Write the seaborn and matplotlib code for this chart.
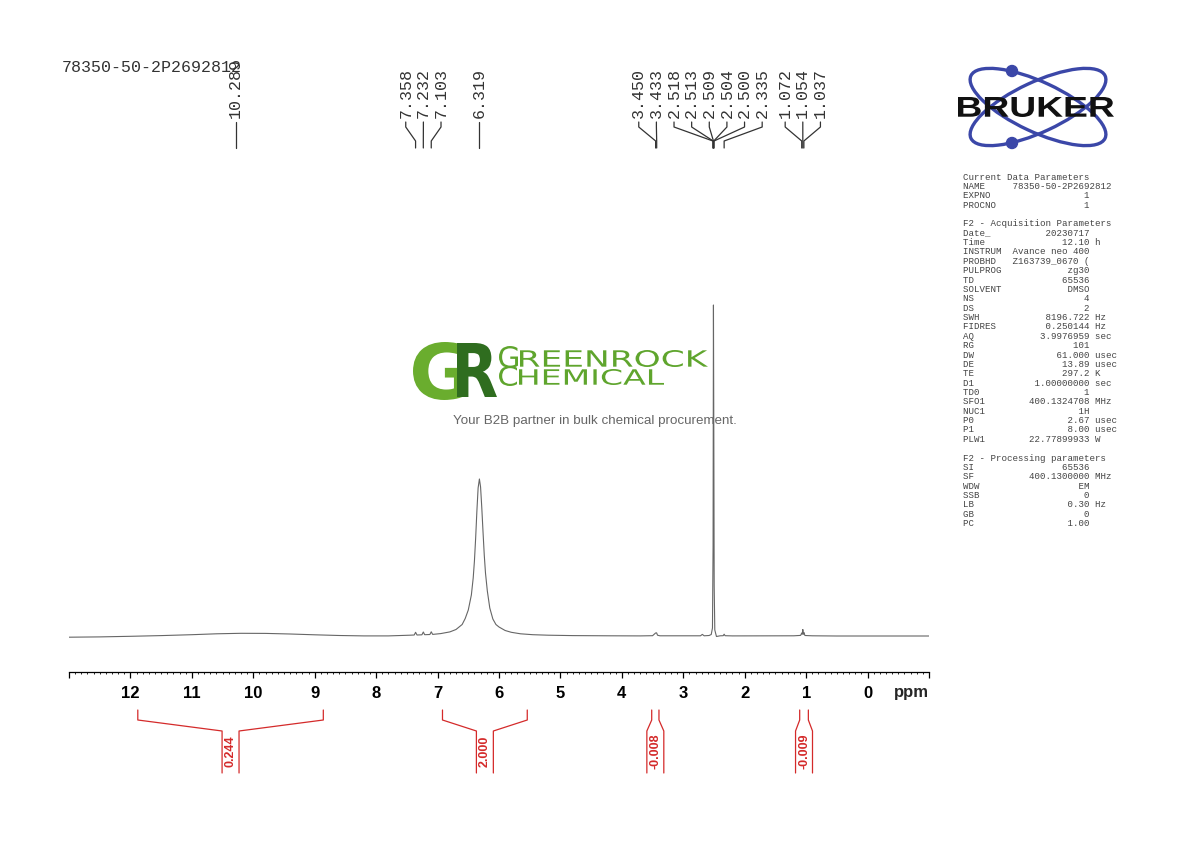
import numpy as np
import pandas as pd
import seaborn as sns
import matplotlib.pyplot as plt
from matplotlib.ticker import FixedLocator, MultipleLocator, FuncFormatter
from matplotlib.patches import Ellipse, Circle, PathPatch
from matplotlib.textpath import TextPath
from matplotlib.font_manager import FontProperties
from matplotlib.transforms import Affine2D

# -----------------------------
# data (ppm, intensity in arb. units)
# -----------------------------
hump_ppm = [13.0, 12.5, 12.0, 11.5, 11.0, 10.6, 10.2, 9.8, 9.4, 9.0, 8.6, 8.2, 7.8]
hump_int = [-1.2, -0.9, -0.3, 0.4, 1.3, 2.2, 2.7, 2.6, 2.0, 1.2, 0.5, 0.1, 0.1]

nh_ppm = [7.60, 7.45, 7.38, 7.358, 7.335, 7.255, 7.232, 7.21, 7.125, 7.103, 7.08,
          6.95, 6.80, 6.70, 6.60, 6.55, 6.50, 6.45, 6.42, 6.40, 6.38, 6.36, 6.34,
          6.319, 6.30, 6.28, 6.26, 6.24, 6.22, 6.19, 6.15, 6.10, 6.05, 6.00, 5.90,
          5.80, 5.65, 5.45, 5.20, 4.80, 4.20]
nh_int = [0.5, 0.8, 1.0, 3.7, 1.0, 1.2, 4.0, 1.3, 1.5, 4.2, 1.6,
          2.4, 4.1, 6.5, 11.5, 17.5, 26, 41, 58, 75, 98, 125, 148,
          157, 149, 128, 104, 81, 63, 45, 28, 17, 11.5, 9, 5.5,
          3.7, 2.2, 1.3, 0.8, 0.4, 0.2]

ali_ppm = [3.70, 3.50, 3.46, 3.45, 3.44, 3.433, 3.42, 3.38, 2.90, 2.72, 2.69, 2.66,
           2.58, 2.545, 2.525, 2.515, 2.509, 2.503, 2.497, 2.487, 2.46, 2.40, 2.35,
           2.335, 2.32, 2.20, 1.20, 1.09, 1.072, 1.063, 1.054, 1.045, 1.037, 1.02,
           0.90, 0.50, -0.50, -1.0]
ali_int = [0.1, 0.3, 2.5, 3.0, 3.2, 3.0, 0.8, 0.2, 0.2, 0.2, 1.6, 0.2,
           0.5, 1.5, 8, 90, 331, 200, 50, 6, -0.5, 0.2, 0.3,
           1.8, 0.3, 0.1, 0.2, 0.6, 3.0, 1.8, 6.5, 1.8, 3.5, 0.5,
           0.2, 0.0, 0.0, 0.0]

# picked peaks, grouped the way the labels are fanned out
peak_groups = [[10.289],
               [7.358, 7.232, 7.103],
               [6.319],
               [3.450, 3.433, 2.518, 2.513, 2.509, 2.504, 2.500, 2.335],
               [1.072, 1.054, 1.037]]

# integrals: (from ppm, to ppm, value)
int_from = [11.88, 6.92, 3.514, 1.105]
int_to = [8.86, 5.54, 3.396, 0.964]
int_vals = ["0.244", "2.000", "-0.008", "-0.009"]

title = "78350-50-2P2692812"

par_names = ["Current Data Parameters", "NAME", "EXPNO", "PROCNO", "",
             "F2 - Acquisition Parameters", "Date_", "Time", "INSTRUM", "PROBHD",
             "PULPROG", "TD", "SOLVENT", "NS", "DS", "SWH", "FIDRES", "AQ", "RG",
             "DW", "DE", "TE", "D1", "TD0", "SFO1", "NUC1", "P0", "P1", "PLW1", "",
             "F2 - Processing parameters", "SI", "SF", "WDW", "SSB", "LB", "GB", "PC"]
par_values = [None, "78350-50-2P2692812", "1", "1", None,
              None, "20230717", "12.10", "Avance neo 400", "Z163739_0670 (",
              "zg30", "65536", "DMSO", "4", "2", "8196.722", "0.250144", "3.9976959", "101",
              "61.000", "13.89", "297.2", "1.00000000", "1", "400.1324708", "1H", "2.67",
              "8.00", "22.77899933", None,
              None, "65536", "400.1300000", "EM", "0", "0.30", "0", "1.00"]
par_units = ["", "", "", "", "",
             "", "", "h", "", "",
             "", "", "", "", "", "Hz", "Hz", "sec", "",
             "usec", "usec", "K", "sec", "", "MHz", "", "usec", "usec", "W", "",
             "", "", "MHz", "", "", "Hz", "", ""]

spec = pd.DataFrame({"ppm": hump_ppm + nh_ppm + ali_ppm,
                     "intensity": hump_int + nh_int + ali_int})

# -----------------------------
# figure
# -----------------------------
sns.set_theme(style="white")
plt.rcParams["font.family"] = ["Liberation Sans", "DejaVu Sans"]
W, H = 1190, 842
fig = plt.figure(figsize=(W / 100, H / 100), dpi=100)

def px_axes(x0, y0, x1, y1, **kw):
    # axes placed by pixel box (top-left origin)
    return fig.add_axes([x0 / W, 1 - y1 / H, (x1 - x0) / W, (y1 - y0) / H], **kw)

# background overlay in pixel coordinates (logos, parameter panel)
bg = px_axes(0, 0, W, H)
bg.set_xlim(0, W); bg.set_ylim(H, 0); bg.axis("off"); bg.set_zorder(0)

ax = px_axes(69, 150, 929, 672)
ax.set_zorder(2); ax.patch.set_visible(False)
sns.lineplot(data=spec, x="ppm", y="intensity", sort=False, estimator=None,
             color="#666666", lw=0.8, ax=ax)
ax.set_xlim(13, -1)
ax.set_ylim(-36, 486)
for s in ["top", "left", "right"]:
    ax.spines[s].set_visible(False)
ax.spines["bottom"].set_linewidth(0.9)
ax.spines["bottom"].set_color("black")
ax.set_yticks([])
ax.set_xlabel(""); ax.set_ylabel("")
ax.xaxis.set_major_locator(FixedLocator(np.arange(-1, 14)))
ax.xaxis.set_minor_locator(MultipleLocator(0.1))
ax.xaxis.set_major_formatter(FuncFormatter(
    lambda v, _: "" if (v > 12.5 or v < -0.5) else f"{int(round(v))}"))
ax.tick_params(axis="x", which="major", direction="out", length=4, width=0.9,
               pad=6, labelsize=12, colors="black", bottom=True)
ax.tick_params(axis="x", which="minor", direction="out", length=1.6, width=0.7, bottom=True)
for t in ax.get_xticklabels():
    t.set_fontweight("bold")
ax.annotate("ppm", xy=(-0.72, 0), xycoords=("data", "axes fraction"),
            xytext=(0, -15), textcoords="offset points", ha="center", va="center",
            fontsize=12, fontweight="bold")

# peak labels above the spectrum
ax_top = px_axes(69, 50, 929, 155, sharex=ax)
ax_top.set_ylim(155, 50); ax_top.axis("off")
label_step = 0.287  # ppm between neighbouring labels
for grp in peak_groups:
    mid = np.mean(grp)
    n = len(grp)
    for i, p in enumerate(grp):
        lx = mid + (n - 1) / 2 * label_step - i * label_step
        ax_top.text(lx, 118, f"{p:.3f}", rotation=90, ha="center", va="bottom",
                    family=["Liberation Mono", "DejaVu Sans Mono"], fontsize=12,
                    color="#333333", clip_on=False)
        ax_top.plot([lx, lx, p, p], [122, 127, 141, 148], color="#333333",
                    lw=0.9, clip_on=False)

# integral brackets under the axis
ax_int = px_axes(69, 700, 929, 780, sharex=ax)
ax_int.set_ylim(780, 700); ax_int.axis("off")
red = "#d42a2a"
gap = 0.138
for a, b, v in zip(int_from, int_to, int_vals):
    c = (a + b) / 2
    ax_int.plot([a, a, c + gap, c + gap], [710, 720, 731, 773], color=red, lw=0.9, clip_on=False)
    ax_int.plot([b, b, c - gap, c - gap], [710, 720, 731, 773], color=red, lw=0.9, clip_on=False)
    ax_int.text(c, 751, v, rotation=90, ha="center", va="center", color=red,
                fontsize=9, fontweight="bold", clip_on=False)

# -----------------------------
# title, logos, parameter panel
# -----------------------------
bg.text(62, 68, title, ha="left", va="center", fontsize=12, color="#333333",
        family=["Liberation Mono", "DejaVu Sans Mono"])

def fit_text(s, x0, y0, x1, y1, color, family="DejaVu Sans", weight="bold", z=1):
    tp = TextPath((0, 0), s, size=100, prop=FontProperties(family=family, weight=weight))
    bb = tp.get_extents()
    tr = (Affine2D().translate(-bb.x0, -bb.y0)
          .scale((x1 - x0) / bb.width, -(y1 - y0) / bb.height).translate(x0, y1))
    bg.add_patch(PathPatch(tr.transform_path(tp), fc=color, ec="none", zorder=z))

# Bruker
blue = "#3b47a8"
for ang in (25, -25):
    bg.add_patch(Ellipse((1038, 107), 148, 50, angle=ang, fill=False, ec=blue, lw=2.4))
bg.add_patch(Circle((1012, 71), 5.5, color=blue))
bg.add_patch(Circle((1012, 143), 5.5, color=blue))
fit_text("BRUKER", 958, 97, 1114, 117, "#111111", family="Liberation Sans", z=3)

# Greenrock watermark
fit_text("G", 413, 342, 468, 400, "#6aad2e")
fit_text("R", 457, 343, 497, 397, "#2f6d1f", z=2)
fit_text("G", 499, 346, 518, 368, "#5fa52d", weight="normal")
fit_text("REENROCK", 520, 350, 708, 367, "#5fa52d", weight="normal")
fit_text("C", 499, 366, 517, 386, "#5fa52d", weight="normal")
fit_text("HEMICAL", 519, 369, 664, 385, "#5fa52d", weight="normal")
bg.text(595, 421, "Your B2B partner in bulk chemical procurement.", ha="center",
        va="center", fontsize=9.6, color="#666666")

# parameter panel
for i, (nm, val, un) in enumerate(zip(par_names, par_values, par_units)):
    if val is None:
        line = nm
    elif nm == "NAME":
        line = f"{nm:<9}{val}"
    else:
        line = f"{nm:<8}{val:>15}" + (f" {un}" if un else "")
    bg.text(963, 177 + i * 9.37, line, ha="left", va="center", fontsize=6.6,
            color="#444444", family=["Liberation Mono", "DejaVu Sans Mono"])

fig.savefig("out.png", dpi=100)
